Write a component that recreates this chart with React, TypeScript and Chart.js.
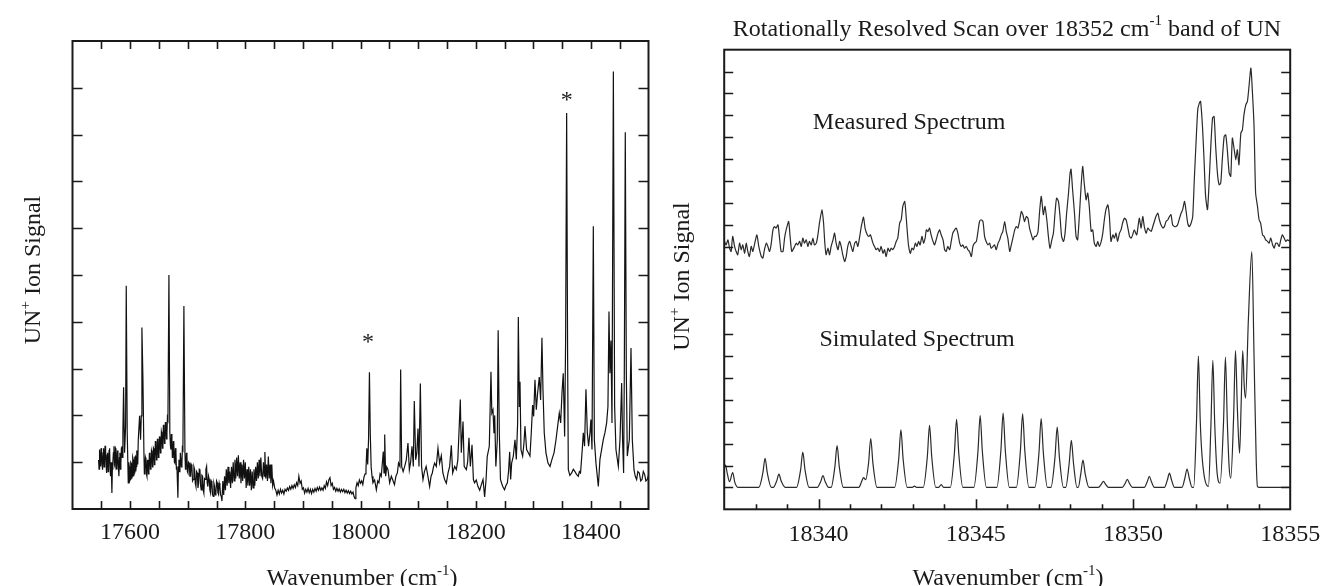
import React, { useEffect, useRef } from "react";
import { Chart, registerables } from "chart.js";
Chart.register(...registerables);

// ---------- DATA ----------
// Left panel: survey scan [wavenumber (cm-1), signal (arb.)]
const surveySpectrum: [number, number][] = [
  [17545.3,1.05],[17546.1,0.85],[17547,1.27],[17547.9,1.0],[17548.8,0.91],[17549.6,1.3],[17550.5,1.2],[17551.3,0.95],[17552.2,0.84],[17553.1,1.2],
  [17554,1.3],[17554.8,0.9],[17555.7,0.98],[17556.5,1.35],[17557.4,1.27],[17558.3,0.95],[17559.2,0.77],[17560.1,1.15],[17561,1.2],[17561.8,0.8],
  [17562.7,0.91],[17563.5,1.25],[17564.4,1.3],[17565.2,0.9],[17566,0.7],[17567.2,1.0],[17568.4,0.34],[17569.2,0.85],[17570,0.98],[17571,1.2],
  [17572,1.34],[17572.8,0.95],[17573.7,0.91],[17574.5,1.3],[17575.4,1.27],[17576.2,0.9],[17577,0.84],[17578,1.25],[17578.9,1.12],[17579.8,0.85],
  [17580.6,0.7],[17581.5,1.1],[17582.3,1.2],[17583.2,0.85],[17584,0.98],[17584.9,1.3],[17585.8,1.34],[17586.6,1.1],[17587.5,1.63],[17588.7,2.6],
  [17590.4,1.2],[17592.2,1.77],[17593.3,4.77],[17595,1.63],[17596.8,0.56],[17597.6,1.0],[17598.5,0.91],[17599.4,0.6],[17600.3,0.63],[17601.1,1.0],
  [17602,0.98],[17602.9,0.65],[17603.7,0.7],[17604.6,1.1],[17605.5,1.05],[17606.3,0.7],[17607.2,0.77],[17608.1,1.1],[17609,1.12],[17609.8,0.8],
  [17610.7,0.91],[17611.6,1.25],[17612.4,1.2],[17613.3,0.95],[17614.2,1.48],[17616.5,1.99],[17618.2,1.48],[17619.4,1.99],[17620.5,3.88],[17622.3,2.76],
  [17624,1.2],[17624.8,0.75],[17625.7,0.84],[17626.6,1.1],[17627.5,1.05],[17628.3,0.75],[17629.2,0.7],[17630.1,1.05],[17631,0.98],[17631.8,0.75],
  [17632.7,0.84],[17633.5,1.2],[17634.4,1.12],[17635.3,0.85],[17636.2,0.91],[17637.1,1.25],[17638,1.2],[17638.8,0.9],[17639.6,0.98],[17640.5,1.3],
  [17641.4,1.27],[17642.2,0.95],[17643,1.05],[17643.9,1.45],[17644.8,1.37],[17645.7,1.05],[17646.6,1.12],[17647.4,1.5],[17648.3,1.41],[17649.1,1.1],
  [17650,1.2],[17650.9,1.55],[17651.8,1.48],[17652.6,1.2],[17653.5,1.3],[17654.3,1.65],[17655.2,1.59],[17656.1,1.3],[17657,1.41],[17657.8,1.8],
  [17658.7,1.7],[17659.6,1.4],[17660.5,1.48],[17661.3,1.86],[17662.2,1.77],[17663.1,1.5],[17664,1.63],[17664.8,1.95],[17665.7,1.91],[17667.4,5.0],
  [17669,1.63],[17670,1.35],[17670.9,1.27],[17671.7,1.6],[17672.6,1.48],[17673.4,1.1],[17674.3,1.12],[17675.1,1.45],[17676,1.34],[17676.9,1.0],
  [17677.8,0.98],[17678.7,1.3],[17679.6,1.2],[17680.4,0.85],[17681.3,0.91],[17683,0.24],[17683.9,0.9],[17684.8,1.05],[17685.6,0.8],[17686.5,0.84],
  [17687.3,1.2],[17688.2,1.2],[17689.1,0.9],[17690,0.98],[17690.8,1.3],[17691.7,1.27],[17693.4,4.34],[17695.2,1.2],[17696.1,0.85],[17697,0.91],
  [17697.8,1.2],[17698.7,1.12],[17699.5,0.8],[17700.4,0.77],[17701.5,1.0],[17702.7,0.98],[17703.8,0.7],[17705,0.7],[17706.1,0.95],[17707.3,0.91],
  [17708.4,0.6],[17709.6,0.63],[17710.8,0.9],[17712,0.84],[17713.1,0.55],[17714.3,0.48],[17715.4,0.8],[17716.6,0.77],[17717.8,0.45],[17719,0.56],
  [17720.1,0.85],[17721.2,0.84],[17722.4,0.5],[17723.5,0.41],[17724.6,0.72],[17725.8,0.7],[17726.9,0.4],[17728,0.34],[17729.2,0.65],[17730.5,0.63],
  [17731.6,0.85],[17732.8,0.91],[17733.9,0.55],[17735,0.48],[17736.2,0.7],[17737.4,0.63],[17738.5,0.4],[17739.7,0.34],[17740.8,0.6],[17742,0.56],
  [17743.2,0.3],[17744.4,0.27],[17745.5,0.55],[17746.7,0.48],[17747.8,0.3],[17749,0.34],[17750.1,0.6],[17751.3,0.56],[17752.4,0.35],[17753.6,0.31],
  [17754.8,0.55],[17756,0.48],[17757.1,0.3],[17758.3,0.27],
  [17759.5,0.17],[17761,0.6],[17762.5,0.3],[17764,0.7],[17765.5,0.4],[17767,0.85],[17768.5,0.5],[17770,0.9],[17771.5,0.55],[17773,0.8],
  [17774.5,0.45],[17776,0.9],[17777.5,0.55],[17779,1.0],[17780.5,0.6],[17782,1.05],[17783.5,0.65],[17785,1.1],[17786.5,0.7],[17788,1.15],
  [17789.5,0.65],[17791,1.0],[17792.5,0.55],[17794,0.95],[17795.5,0.6],[17797,1.05],[17798.5,0.65],[17800,1.0],[17801.5,0.45],[17803,0.85],
  [17804.5,0.5],[17806,0.9],[17807.5,0.5],[17809,0.85],[17810.5,0.4],[17812,0.8],[17813.5,0.45],[17815,0.85],[17816.5,0.5],[17818,0.9],
  [17819.5,0.6],[17821,1.0],[17822.5,0.65],[17824,1.05],[17825.5,0.7],[17827,1.1],[17828.5,0.7],[17830,0.65],[17831.5,1.0],[17833,0.7],
  [17834,1.22],[17835.5,0.65],[17837,0.95],[17838.5,0.6],[17840,1.12],[17841.5,0.65],[17843,0.95],[17844.5,0.55],[17846,0.95],[17847.5,0.5],
  [17849,0.6],[17851,0.45],[17853,0.4],[17855,0.3],[17857,0.4],[17859,0.32],[17861,0.42],[17863,0.34],[17865,0.4],[17867,0.32],
  [17869,0.42],[17871,0.38],[17873,0.45],[17875,0.4],[17877,0.48],[17879,0.42],[17881,0.5],[17883,0.44],[17885,0.52],[17887,0.46],
  [17889,0.56],[17891,0.5],[17893,0.7],[17895,0.55],[17897,0.6],[17899,0.42],[17901,0.45],[17903,0.34],[17905,0.42],[17907,0.36],
  [17909,0.44],[17911,0.35],[17913,0.42],[17915,0.33],[17917,0.42],[17919,0.36],[17921,0.44],[17923,0.38],[17925,0.46],[17927,0.4],
  [17929,0.47],[17931,0.4],[17933,0.45],[17935,0.4],[17937,0.5],[17939,0.44],[17941,0.58],[17943,0.5],[17945,0.62],[17947,0.67],
  [17949,0.5],[17951,0.55],[17953,0.42],[17955,0.46],[17957,0.38],[17959,0.44],[17961,0.38],[17963,0.43],[17965,0.36],[17967,0.42],
  [17969,0.37],[17971,0.42],[17973,0.35],[17975,0.4],[17977,0.34],[17979,0.39],[17981,0.33],[17983,0.38],[17985,0.32],[17987,0.36],
  [17989,0.26],[17990.5,0.22],[17992,0.45],[17994,0.56],[17996,0.5],[17998,0.62],[18000,0.55],[18002,0.6],[18004,0.52],[18006,0.68],
  [18008,0.75],[18009.5,0.85],[18011,1.3],[18012.5,0.95],[18014,1.5],[18015.5,2.92],[18017,1.6],[18018.5,0.9],[18020,0.7],
  [18021.7,0.56],[18024.5,0.62],[18027.5,0.41],[18030,0.6],[18032,0.56],[18034,0.75],[18036,0.7],[18039.6,1.23],[18040.8,0.77],[18042,1.59],
  [18043.7,0.7],[18045.5,0.9],[18047.7,0.84],[18050.6,0.56],[18053.5,0.7],[18056,0.62],[18059,0.52],[18061.5,0.7],[18064,0.77],[18066,0.98],
  [18068.5,0.91],[18069.7,2.98],[18071.5,0.91],[18074,0.8],[18076.7,0.91],[18079.5,1.05],[18082.4,1.41],[18084.8,0.84],[18087,1.0],[18089.4,1.34],
  [18091.7,0.91],[18093.4,2.31],[18095.8,1.05],[18097.8,1.2],[18099.8,1.72],[18101.5,0.91],[18103.9,2.68],[18106,0.91],[18108.5,0.63],[18111,0.8],
  [18114,0.91],[18117,0.7],[18120,0.48],[18122.5,0.7],[18124.7,0.77],[18126.7,0.9],[18128.7,0.98],[18131.6,0.91],[18134.5,1.3],[18137.4,0.98],
  [18140.3,1.14],[18143,0.77],[18146,0.63],[18149,0.55],[18152,0.77],[18154.8,0.91],[18157.7,1.36],[18160,0.77],[18163.5,0.91],[18166.4,0.84],
  [18169,1.05],[18173.3,2.34],[18175,1.2],[18178,1.87],[18180,0.91],[18183.7,0.84],[18186,1.0],[18188.3,1.52],[18190.7,0.91],[18193.6,1.37],
  [18196,0.63],[18198,0.56],[18201,0.62],[18204,0.48],[18207,0.4],[18209.8,0.52],[18212.7,0.63],[18215.5,0.26],[18218,0.63],[18220,1.12],
  [18223.6,1.34],[18226.5,2.93],[18228,2.05],[18230,2.12],[18231.7,1.62],[18233,2.0],[18235,0.91],[18237.5,1.48],[18239,3.82],[18241,1.62],
  [18243,0.63],[18245,0.55],[18247,0.48],[18250,0.41],[18252.5,0.5],[18255,0.56],[18257,0.8],[18259,1.22],[18260.7,0.63],
  [18262.4,0.98],[18265.3,1.13],[18268.2,1.48],[18270.5,1.06],[18272.8,1.84],[18274,4.1],[18275.7,2.19],[18276.9,2.72],[18278.6,1.27],[18281.5,1.13],
  [18283.8,1.41],[18285.5,1.77],[18288.4,1.27],[18291.3,1.2],[18294.2,1.13],[18296.5,1.63],[18298.8,2.22],[18300.6,1.98],[18302.9,2.76],[18305.2,2.12],
  [18307.5,2.48],[18310.4,2.82],[18312.7,2.33],[18315,3.66],[18316.8,2.55],[18319,1.63],[18322,1.2],[18325.5,0.98],[18329,0.91],[18332.4,1.06],
  [18336,1.2],[18339.4,1.48],[18342.3,1.77],[18345.1,2.05],[18347.5,1.84],[18349.8,2.48],[18352,2.9],[18354.4,1.55],[18356.1,3.6],[18357.9,8.46],
  [18359.6,3.2],[18360.8,0.84],[18363.5,0.72],[18366.6,0.77],[18369.5,0.85],[18372.3,0.8],[18375,0.74],[18378.1,0.7],[18380,0.8],[18382,0.77],
  [18385,1.27],[18386.8,1.63],[18389,1.34],[18391.4,2.56],[18393.8,1.63],[18396,1.34],[18398.4,1.63],[18400,1.91],[18401.9,1.27],[18404.2,6.04],
  [18406,1.48],[18408.8,0.98],[18412.9,0.48],[18415.7,1.06],[18418.6,1.27],[18421.5,1.48],[18424.4,1.63],[18427.3,1.84],[18429.6,2.19],[18431.4,4.22],
  [18433,2.9],[18434.8,3.6],[18436.6,1.84],[18439,9.35],[18441.2,2.19],[18443.5,1.27],[18447.6,0.91],[18450.5,1.48],[18453.4,2.69],[18455,1.48],
  [18456.8,0.77],[18458,2.9],[18459.7,8.05],[18461.5,2.9],[18463.2,1.13],[18466.7,1.48],[18469.6,3.44],[18471.9,1.48],[18474.8,0.84],[18477,0.7],
  [18479.4,0.63],[18481.5,0.8],[18484,0.77],[18486.5,0.6],[18488.7,0.63],[18491,0.8],[18493.3,0.74],[18495.5,0.6],[18498,0.63],[18501,0.77]
];

// Right panel: measured rotationally resolved scan
const measuredSpectrum: [number, number][] = [
  [18337.01,12.24],[18337.06,12.08],[18337.12,12.31],[18337.17,11.93],[18337.22,11.78],[18337.27,12.47],[18337.33,12.01],[18337.38,11.78],[18337.43,11.63],[18337.49,12.16],
  [18337.54,11.86],[18337.59,12.08],[18337.65,11.70],[18337.70,12.16],[18337.75,11.78],[18337.80,11.55],[18337.86,12.01],[18337.91,11.78],[18337.96,12.08],[18338.04,12.54],
  [18338.10,12.01],[18338.18,11.55],[18338.23,11.48],[18338.28,11.86],[18338.34,12.16],[18338.39,12.01],[18338.44,11.78],[18338.49,12.08],[18338.55,12.77],[18338.60,12.92],
  [18338.65,12.85],[18338.71,13.00],[18338.76,12.39],[18338.81,11.78],[18338.87,11.78],[18338.92,12.39],[18338.97,12.77],[18339.05,13.15],[18339.10,12.39],[18339.15,11.78],
  [18339.24,12.01],[18339.29,12.16],[18339.34,12.08],[18339.40,12.24],[18339.45,12.01],[18339.50,12.39],[18339.55,12.16],[18339.61,12.31],[18339.66,12.01],[18339.71,12.24],
  [18339.77,12.08],[18339.82,12.39],[18339.87,12.08],[18339.93,12.16],[18339.98,12.54],[18340.03,13.08],[18340.11,13.69],[18340.16,13.08],[18340.20,12.16],[18340.24,11.63],
  [18340.30,11.93],[18340.35,11.63],[18340.40,12.01],[18340.46,12.31],[18340.51,12.62],[18340.56,12.16],[18340.62,11.86],[18340.67,12.24],[18340.72,12.01],[18340.77,11.63],
  [18340.83,11.32],[18340.88,11.55],[18340.93,12.01],[18340.99,12.24],[18341.04,12.01],[18341.09,11.78],[18341.15,12.16],[18341.20,12.24],[18341.25,12.01],[18341.31,12.47],
  [18341.36,12.92],[18341.43,13.35],[18341.48,12.85],[18341.55,12.54],[18341.60,12.47],[18341.65,12.54],[18341.73,12.16],[18341.78,12.01],[18341.83,11.86],[18341.89,11.93],
  [18341.94,11.78],[18341.99,12.01],[18342.05,11.70],[18342.10,11.86],[18342.15,11.55],[18342.21,11.93],[18342.26,11.78],[18342.31,11.93],[18342.36,11.86],[18342.42,12.01],
  [18342.47,12.24],[18342.52,12.39],[18342.58,13.08],[18342.63,13.23],[18342.68,13.84],[18342.74,14.07],[18342.77,13.69],[18342.81,12.92],[18342.86,12.08],[18342.92,11.70],
  [18342.97,11.93],[18343.02,11.86],[18343.08,12.16],[18343.13,12.01],[18343.18,12.24],[18343.23,12.08],[18343.29,12.47],[18343.34,12.16],[18343.39,12.39],[18343.43,12.77],
  [18343.48,12.69],[18343.53,12.85],[18343.58,12.54],[18343.64,12.24],[18343.69,12.08],[18343.74,12.31],[18343.80,12.62],[18343.85,12.77],[18343.90,12.54],[18343.96,12.31],
  [18344.01,11.86],[18344.06,11.78],[18344.11,12.01],[18344.17,11.86],[18344.22,12.24],[18344.27,12.62],[18344.33,12.77],[18344.38,12.85],[18344.43,12.62],[18344.49,12.16],
  [18344.54,12.01],[18344.59,12.08],[18344.64,11.93],[18344.70,12.01],[18344.75,11.86],[18344.80,11.78],[18344.86,11.55],[18344.91,12.01],[18344.96,12.16],[18345.02,12.24],
  [18345.07,12.69],[18345.12,13.15],[18345.17,13.23],[18345.23,13.15],[18345.28,12.47],[18345.33,12.24],[18345.39,12.08],[18345.44,12.16],[18345.49,11.93],[18345.55,12.01],
  [18345.60,12.08],[18345.65,11.86],[18345.71,12.16],[18345.76,12.31],[18345.81,12.54],[18345.86,12.69],[18345.92,13.15],[18345.97,12.69],[18346.02,12.39],[18346.08,11.78],
  [18346.13,12.08],[18346.18,12.39],[18346.24,12.77],[18346.29,12.92],[18346.34,12.85],[18346.39,13.15],[18346.45,13.61],[18346.50,13.46],[18346.55,13.15],[18346.61,13.38],
  [18346.66,13.30],[18346.71,12.85],[18346.77,12.54],[18346.82,12.31],[18346.87,12.47],[18346.92,12.47],[18346.98,12.69],[18347.03,13.60],[18347.08,14.30],[18347.10,14.14],
  [18347.15,13.46],[18347.20,13.84],[18347.26,13.23],[18347.31,12.47],[18347.36,11.93],[18347.42,12.31],[18347.47,12.62],[18347.52,13.53],[18347.57,14.22],[18347.63,14.07],
  [18347.68,13.38],[18347.73,12.47],[18347.79,12.24],[18347.84,12.62],[18347.89,13.53],[18347.95,14.45],[18348.00,15.36],[18348.03,15.54],[18348.08,14.60],[18348.14,13.53],
  [18348.19,12.47],[18348.24,12.31],[18348.30,13.53],[18348.35,14.75],[18348.40,15.67],[18348.45,14.90],[18348.51,14.14],[18348.56,14.45],[18348.61,13.84],[18348.67,12.70],
  [18348.72,12.77],[18348.77,12.16],[18348.83,12.01],[18348.88,12.24],[18348.93,12.01],[18348.99,12.24],[18349.04,12.62],[18349.09,13.23],[18349.14,13.69],[18349.20,13.91],
  [18349.25,13.38],[18349.30,12.24],[18349.36,12.54],[18349.41,12.39],[18349.46,12.62],[18349.51,12.24],[18349.57,12.62],[18349.62,12.77],[18349.67,13.08],[18349.73,13.30],
  [18349.78,13.23],[18349.83,12.92],[18349.89,12.47],[18349.94,12.39],[18349.99,12.54],[18350.04,12.77],[18350.12,12.54],[18350.20,13.30],[18350.26,12.85],[18350.31,13.38],
  [18350.36,12.92],[18350.42,12.62],[18350.47,12.85],[18350.52,12.77],[18350.58,12.70],[18350.63,12.92],[18350.68,13.15],[18350.73,13.38],[18350.79,13.53],[18350.84,13.23],
  [18350.89,13.00],[18350.95,12.85],[18351.00,12.92],[18351.05,13.15],[18351.11,13.23],[18351.16,13.38],[18351.21,13.46],[18351.26,13.00],[18351.32,12.92],[18351.37,12.92],
  [18351.42,13.00],[18351.48,13.30],[18351.53,13.53],[18351.58,13.69],[18351.64,14.07],[18351.69,13.61],[18351.74,13.08],[18351.79,12.92],[18351.85,13.08],[18351.90,13.38],
  [18351.95,15.06],[18352.01,16.89],[18352.06,18.26],[18352.11,18.56],[18352.15,18.64],[18352.21,17.50],[18352.26,15.97],[18352.31,14.30],[18352.37,13.69],[18352.42,14.90],
  [18352.47,16.43],[18352.53,17.88],[18352.58,17.95],[18352.63,16.58],[18352.69,15.29],[18352.74,14.83],[18352.79,14.90],[18352.84,15.97],[18352.90,17.04],[18352.95,17.11],
  [18353.00,16.43],[18353.06,15.36],[18353.11,15.21],[18353.16,16.96],[18353.22,16.43],[18353.27,15.97],[18353.32,16.43],[18353.37,15.74],[18353.43,17.19],[18353.48,17.34],
  [18353.53,18.03],[18353.59,18.49],[18353.64,18.64],[18353.69,19.33],[18353.75,20.16],[18353.80,19.02],[18353.85,17.50],[18353.90,14.45],[18353.96,13.84],[18354.01,13.23],
  [18354.06,13.08],[18354.12,12.54],[18354.17,12.47],[18354.22,12.31],[18354.28,12.24],[18354.33,12.16],[18354.38,12.39],[18354.44,12.09],[18354.49,11.93],[18354.54,12.16],
  [18354.59,12.16],[18354.65,12.01],[18354.70,12.31],[18354.75,12.54],[18354.81,12.39],[18354.86,12.24],[18354.91,12.31],[18355.00,12.24]
];

// Right panel: simulated spectrum
const simulatedSpectrum: [number, number][] = [
  [18337.00,1.90],[18337.04,2.02],[18337.10,1.62],[18337.17,1.26],[18337.27,1.68],[18337.34,1.22],[18337.45,1.00],
  [18338.10,1.00],[18338.23,1.67],[18338.30,2.33],[18338.37,1.67],[18338.50,1.00],
  [18338.56,1.00],[18338.67,1.30],[18338.74,1.61],[18338.81,1.30],[18338.94,1.00],
  [18339.30,1.00],[18339.43,1.80],[18339.50,2.61],[18339.57,1.80],[18339.70,1.00],
  [18339.96,1.00],[18340.07,1.27],[18340.14,1.54],[18340.21,1.27],[18340.32,1.00],
  [18340.40,1.00],[18340.52,1.95],[18340.59,2.91],[18340.66,1.95],[18340.79,1.00],
  [18341.28,1.00],[18341.38,1.30],[18341.43,1.45],[18341.50,1.35],[18341.59,2.10],[18341.66,3.23],[18341.73,2.10],[18341.86,1.00],
  [18342.42,1.00],[18342.55,2.30],[18342.62,3.63],[18342.69,2.30],[18342.82,1.00],
  [18342.98,1.00],[18343.05,1.06],[18343.12,1.00],
  [18343.33,1.00],[18343.46,2.40],[18343.53,3.84],[18343.60,2.40],[18343.73,1.00],
  [18343.82,1.00],[18343.90,1.13],[18343.98,1.00],
  [18344.19,1.00],[18344.32,2.55],[18344.39,4.11],[18344.46,2.55],[18344.59,1.00],
  [18344.94,1.00],[18345.07,2.64],[18345.14,4.28],[18345.21,2.64],[18345.34,1.00],
  [18345.67,1.00],[18345.80,2.70],[18345.87,4.39],[18345.94,2.70],[18346.07,1.00],
  [18346.29,1.00],[18346.42,2.68],[18346.49,4.36],[18346.56,2.68],[18346.69,1.00],
  [18346.88,1.00],[18347.01,2.57],[18347.08,4.14],[18347.15,2.57],[18347.28,1.00],
  [18347.39,1.00],[18347.52,2.38],[18347.59,3.76],[18347.66,2.38],[18347.79,1.00],
  [18347.86,1.00],[18347.97,2.08],[18348.04,3.15],[18348.11,2.08],[18348.22,1.00],
  [18348.26,1.00],[18348.34,1.62],[18348.41,2.25],[18348.48,1.62],[18348.60,1.00],
  [18348.90,1.00],[18348.99,1.14],[18349.06,1.28],[18349.13,1.14],[18349.22,1.00],
  [18349.66,1.00],[18349.75,1.18],[18349.82,1.37],[18349.89,1.18],[18349.98,1.00],
  [18350.36,1.00],[18350.45,1.25],[18350.52,1.50],[18350.59,1.25],[18350.68,1.00],
  [18351.00,1.00],[18351.09,1.32],[18351.16,1.65],[18351.23,1.32],[18351.32,1.00],
  [18351.56,1.00],[18351.65,1.42],[18351.72,1.84],[18351.79,1.42],[18351.88,1.00],
  [18351.93,1.00],[18352.02,4.00],[18352.08,7.00],[18352.14,4.00],[18352.19,2.56],[18352.28,1.40],[18352.40,1.05],
  [18352.48,3.90],[18352.54,6.81],[18352.60,3.90],[18352.68,1.60],[18352.77,1.19],
  [18352.88,4.00],[18352.94,6.96],[18353.00,4.00],[18353.06,1.90],[18353.11,1.42],
  [18353.20,4.20],[18353.26,7.25],[18353.32,4.60],[18353.39,2.56],
  [18353.44,4.80],[18353.49,7.25],[18353.54,5.60],[18353.58,5.08],[18353.67,8.66],
  [18353.78,11.78],[18353.85,7.00],[18353.92,2.20],[18353.96,1.04],[18354.02,1.00],[18355.00,1.00]
];

const surveyXTickLabels = [17600, 17800, 18000, 18200, 18400];
const scanXTickLabels = [18340, 18345, 18350, 18355];
// asterisk markers on the survey scan [wavenumber, signal]
const surveyStars: [number, number][] = [[18013, 3.62], [18358, 8.79]];

const FONT = '"Liberation Serif", "Times New Roman", serif';
const INK = "#1a1a1a";

type Run = { t: string; sup?: boolean };

function runsWidth(ctx: CanvasRenderingContext2D, runs: Run[], size: number) {
  let w = 0;
  for (const r of runs) {
    ctx.font = `${r.sup ? Math.round(size * 0.62) : size}px ${FONT}`;
    w += ctx.measureText(r.t).width;
  }
  return w;
}

function drawRuns(ctx: CanvasRenderingContext2D, runs: Run[], x: number, y: number, size: number, align: "left" | "center") {
  const w = runsWidth(ctx, runs, size);
  let cx = align === "center" ? x - w / 2 : x;
  ctx.textAlign = "left";
  ctx.textBaseline = "alphabetic";
  for (const r of runs) {
    ctx.font = `${r.sup ? Math.round(size * 0.62) : size}px ${FONT}`;
    ctx.fillText(r.t, cx, r.sup ? y - size * 0.42 : y);
    cx += ctx.measureText(r.t).width;
  }
}

type FrameCfg = {
  xStart: number; xEnd: number; xStep: number; xMajorEvery: number;
  xMajorLen: number; xMinorLen: number; topTicks: boolean;
  yStart: number; yEnd: number; yStep: number; yLen: number;
  xLabels: number[]; labelBaseline: number;
  xTitle: { x: number; y: number };
  yTitle: { x: number; y: number };
  extra?: (chart: any, ctx: CanvasRenderingContext2D) => void;
};

function framePlugin(cfg: FrameCfg) {
  return {
    id: "frameTicks",
    afterDraw(chart: any) {
      const ctx: CanvasRenderingContext2D = chart.ctx;
      const a = chart.chartArea;
      const xs = chart.scales.x;
      const ys = chart.scales.y;
      ctx.save();
      ctx.strokeStyle = INK;
      ctx.lineWidth = 2;
      ctx.strokeRect(a.left, a.top, a.right - a.left, a.bottom - a.top);
      ctx.lineWidth = 1.6;
      ctx.beginPath();
      for (let v = cfg.xStart; v <= cfg.xEnd + 1e-6; v += cfg.xStep) {
        const px = Math.round(xs.getPixelForValue(v)) + 0.5;
        if (px <= a.left + 2 || px >= a.right - 2) continue;
        const major = Math.abs(Math.round(v / cfg.xMajorEvery) * cfg.xMajorEvery - v) < 1e-6;
        const len = major ? cfg.xMajorLen : cfg.xMinorLen;
        ctx.moveTo(px, a.bottom);
        ctx.lineTo(px, a.bottom - len);
        if (cfg.topTicks) {
          ctx.moveTo(px, a.top);
          ctx.lineTo(px, a.top + len);
        }
      }
      for (let v = cfg.yStart; v <= cfg.yEnd + 1e-6; v += cfg.yStep) {
        const py = Math.round(ys.getPixelForValue(v)) + 0.5;
        if (py <= a.top + 2 || py >= a.bottom - 2) continue;
        ctx.moveTo(a.left, py);
        ctx.lineTo(a.left + cfg.yLen, py);
        ctx.moveTo(a.right, py);
        ctx.lineTo(a.right - cfg.yLen, py);
      }
      ctx.stroke();

      ctx.fillStyle = INK;
      ctx.font = `24px ${FONT}`;
      ctx.textAlign = "center";
      ctx.textBaseline = "alphabetic";
      for (const lab of cfg.xLabels) {
        ctx.fillText(String(lab), xs.getPixelForValue(lab), cfg.labelBaseline);
      }
      drawRuns(ctx, [{ t: "Wavenumber (cm" }, { t: "-1", sup: true }, { t: ")" }], cfg.xTitle.x, cfg.xTitle.y, 24, "center");
      ctx.save();
      ctx.translate(cfg.yTitle.x, cfg.yTitle.y);
      ctx.rotate(-Math.PI / 2);
      drawRuns(ctx, [{ t: "UN" }, { t: "+", sup: true }, { t: " Ion Signal" }], 0, 0, 24, "center");
      ctx.restore();
      if (cfg.extra) cfg.extra(chart, ctx);
      ctx.restore();
    },
  };
}

function toPoints(arr: [number, number][]) {
  return arr.map(([x, y]) => ({ x, y }));
}

export default function App() {
  const leftRef = useRef<HTMLCanvasElement>(null);
  const rightRef = useRef<HTMLCanvasElement>(null);

  useEffect(() => {
    document.body.style.margin = "0";
    const common = (xmin: number, xmax: number, ymin: number, ymax: number, pad: any) => ({
      responsive: false,
      animation: false as const,
      devicePixelRatio: 1,
      events: [] as any[],
      layout: { padding: pad },
      plugins: { legend: { display: false }, tooltip: { enabled: false }, title: { display: false } },
      scales: {
        x: { type: "linear" as const, min: xmin, max: xmax, display: false },
        y: { type: "linear" as const, min: ymin, max: ymax, display: false },
      },
    });

    const left = new Chart(leftRef.current!, {
      type: "line",
      data: {
        datasets: [
          {
            data: toPoints(surveySpectrum) as any,
            borderColor: "#111",
            borderWidth: 1.2,
            pointRadius: 0,
            tension: 0,
          },
        ],
      },
      options: common(17500, 18500, 0, 10, { left: 72.5, right: 11.5, top: 41, bottom: 77 }) as any,
      plugins: [
        framePlugin({
          xStart: 17550, xEnd: 18450, xStep: 50, xMajorEvery: 50, xMajorLen: 8, xMinorLen: 8, topTicks: true,
          yStart: 1, yEnd: 9, yStep: 1, yLen: 10,
          xLabels: surveyXTickLabels, labelBaseline: 539,
          xTitle: { x: 362, y: 585 },
          yTitle: { x: 40, y: 270 },
          extra: (chart, ctx) => {
            const xs = chart.scales.x, ys = chart.scales.y;
            ctx.font = `24px ${FONT}`;
            ctx.textAlign = "center";
            ctx.textBaseline = "alphabetic";
            for (const [w, s] of surveyStars) {
              ctx.fillText("*", xs.getPixelForValue(w), ys.getPixelForValue(s) + 9.5);
            }
          },
        }) as any,
      ],
    });

    const right = new Chart(rightRef.current!, {
      type: "line",
      data: {
        datasets: [
          {
            data: toPoints(measuredSpectrum) as any,
            borderColor: "#2a2a2a",
            borderWidth: 1.2,
            pointRadius: 0,
            tension: 0.2,
          },
          {
            data: toPoints(simulatedSpectrum) as any,
            borderColor: "#2a2a2a",
            borderWidth: 1.2,
            pointRadius: 0,
            cubicInterpolationMode: "monotone",
          },
        ],
      },
      options: common(18337, 18355, 0, 21, { left: 64.2, right: 31.8, top: 49.7, bottom: 76.7 }) as any,
      plugins: [
        framePlugin({
          xStart: 18338, xEnd: 18354, xStep: 1, xMajorEvery: 5, xMajorLen: 10, xMinorLen: 5, topTicks: false,
          yStart: 1, yEnd: 20, yStep: 1, yLen: 9,
          xLabels: scanXTickLabels, labelBaseline: 541,
          xTitle: { x: 348, y: 585 },
          yTitle: { x: 29, y: 276.5 },
          extra: (chart, ctx) => {
            const xs = chart.scales.x, ys = chart.scales.y;
            drawRuns(ctx, [{ t: "Rotationally Resolved Scan over 18352 cm" }, { t: "-1", sup: true }, { t: " band of UN" }], 347, 35.5, 24, "center");
            drawRuns(ctx, [{ t: "Measured Spectrum" }], xs.getPixelForValue(18339.82), ys.getPixelForValue(17.39), 24, "left");
            drawRuns(ctx, [{ t: "Simulated Spectrum" }], xs.getPixelForValue(18340.03), ys.getPixelForValue(7.48), 24, "left");
          },
        }) as any,
      ],
    });

    return () => {
      left.destroy();
      right.destroy();
    };
  }, []);

  return (
    <div style={{ position: "fixed", left: 0, top: 0, width: 1322, height: 586, background: "#fff", overflow: "hidden" }}>
      <canvas ref={leftRef} width={660} height={586} style={{ position: "absolute", left: 0, top: 0, width: 660, height: 586 }} />
      <canvas ref={rightRef} width={662} height={586} style={{ position: "absolute", left: 660, top: 0, width: 662, height: 586 }} />
    </div>
  );
}
